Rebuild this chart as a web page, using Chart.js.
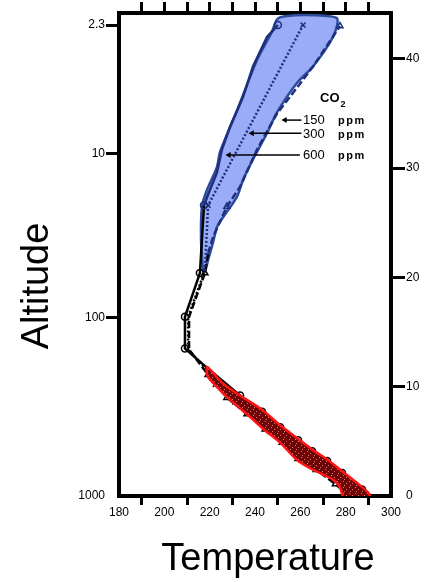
<!DOCTYPE html>
<html><head><meta charset="utf-8">
<script src="https://cdn.jsdelivr.net/npm/chart.js@4.4.1/dist/chart.umd.min.js"></script>
<style>html,body{margin:0;padding:0;background:#fff}canvas{display:block}</style>
</head><body>
<canvas id="c" width="441" height="582"></canvas>
<script>
// ---------- data (temperature K, altitude km) ----------
const T600 = [290.5, 287.2, 278.4, 271.8, 265.2, 259.0, 251.1, 243.1, 233.4, 220.1, 209.1, 209.1, 215.7, 217.5, 220.1, 223.2, 225.4, 229.0, 234.7, 239.1, 245.3, 250.1];
const Z600 = [0, 0.6, 2.1, 3.2, 4.1, 5.1, 6.3, 7.7, 9.2, 11.5, 13.5, 16.4, 20.4, 26.6, 28.0, 29.6, 31.7, 33.8, 36.5, 39.3, 42.0, 43.1];
const M600 = [1,2,3,4,5,6,7,8,10,11,12,13,21];

const T300 = [286.0, 280.0, 272.0, 263.0, 255.5, 248.0, 240.0, 231.0, 222.5, 219.8, 210.5, 210.5, 217.9, 219.3, 261.2];
const Z300 = [0, 1.0, 2.2, 3.5, 4.8, 6.0, 7.2, 8.6, 10.2, 11.3, 13.4, 16.4, 20.6, 26.6, 43.1];
const M300 = [1,2,3,4,5,6,7,8,13,14];

const T150 = [281.5, 275.5, 267.0, 259.0, 252.0, 244.5, 236.5, 227.6, 219.3, 210.9, 210.9, 217.9, 219.3, 221.5, 227.6, 233.4, 240.9, 249.7, 256.8, 265.6, 277.5];
const Z150 = [0, 1.1, 2.4, 3.4, 4.9, 6.1, 7.5, 9.0, 11.1, 13.4, 16.4, 20.4, 22.2, 23.7, 26.5, 28.3, 31.7, 35.0, 36.9, 39.3, 43.0];
const M150 = [1,2,3,4,5,6,7,8,11,14,20];

// highlighted stratospheric spread (blue) outline
const blueT = [217.1, 216.2, 216.6, 218.8, 223.2, 224.6, 232.1, 240.9, 247.5, 249.7, 253.2, 265.6, 276.2, 274.4, 265.6, 258.5, 249.7, 245.3, 239.1, 234.7, 232.1, 225.9, 223.2, 221.5, 219.3, 217.9, 217.1];
const blueZ = [20.5, 23.4, 26.5, 28.0, 30.1, 31.5, 35.3, 39.9, 42.5, 43.6, 43.9, 44.0, 43.7, 42.0, 39.3, 37.8, 35.1, 33.2, 30.8, 28.9, 27.4, 25.5, 24.6, 23.2, 21.6, 20.5, 20.5];

// highlighted tropospheric spread (red) outline
const redT = [220.1, 225.9, 233.4, 243.1, 251.0, 259.8, 265.6, 272.2, 278.8, 285.0, 290.7, 287.5, 279.5, 277.5, 274.4, 265.6, 258.5, 251.0, 244.4, 239.1, 229.0, 224.0, 219.0, 218.8, 220.1];
const redZ = [11.6, 10.3, 9.2, 7.9, 6.5, 5.1, 4.2, 3.3, 2.2, 1.2, 0.1, -0.3, -0.3, 0.8, 1.5, 2.4, 3.3, 4.9, 6.0, 7.0, 8.8, 9.8, 11.0, 11.8, 11.6];

// CO2 labels and arrows
const co2Labels = ['150', '300', '600'];
const co2LabelT = [261.2, 261.2, 261.2];
const co2LabelZ = [34.4, 33.1, 31.2];
const arrowFromT = [260.5, 260.5, 259.8];
const arrowTipT = [253.2, 238.7, 228.5];
const arrowZ = [34.4, 33.2, 31.2];
const co2TitleT = 268.7, co2TitleZ = 36.4;
const ppmT = 276.6;

// axes
const xMin = 180, xMax = 300;
const xLabelValues = [180, 200, 220, 240, 260, 280, 300];
const xMarkValues = [190, 210, 230, 250, 270, 290];
const xTopMarks = [190, 200, 210, 220, 230, 240, 250, 260, 270, 280, 290];
const altMax = 44.2;
const altTicks = [0, 10, 20, 30, 40];
const pressureLabels = ['2.3', '10', '100', '1000'];
const pressureAlt = [43.1, 31.3, 16.3, 0];
const xTitle = 'Temperature', yTitle = 'Altitude';

// ---------- helpers ----------
const pts = (T, Z) => T.map((t, i) => ({x: t, y: Z[i]}));
const NAVY = '#1e2f7c', BLACK = '#000';
const STRAT = 20.45;
const segCol = c => (c.p0.parsed.y >= STRAT && c.p1.parsed.y >= STRAT) ? NAVY : BLACK;
const ptCol = c => (c.raw && c.raw.y >= STRAT) ? NAVY : BLACK;
const radiusFor = (marks, r) => c => marks.includes(c.dataIndex) ? r : 0;

// speckled dark-red fill for the tropospheric band
function speckle() {
  const p = document.createElement('canvas');
  p.width = 6; p.height = 6;
  const g = p.getContext('2d');
  g.fillStyle = '#6e0404'; g.fillRect(0, 0, 6, 6);
  g.fillStyle = '#d87a7a';
  g.fillRect(1, 1, 1, 1); g.fillRect(4, 3, 1, 1); g.fillRect(2, 5, 1, 1);
  return g.createPattern(p, 'repeat');
}

function profile(label, T, Z, marks, style, dash, order) {
  return {
    label, data: pts(T, Z), order,
    borderColor: BLACK, borderWidth: 2.5, borderDash: dash,
    segment: {borderColor: segCol},
    pointStyle: style, pointRadius: radiusFor(marks, 3.5), pointHoverRadius: 0,
    pointBorderColor: ptCol, pointBackgroundColor: 'rgba(0,0,0,0)', pointBorderWidth: 1.5,
    fill: false, tension: 0
  };
}

const datasets = [
  {label: 'spread-strat', data: pts(blueT, blueZ), order: 10, fill: 'shape',
   backgroundColor: '#9aabf7', borderColor: '#2c4c9c', borderWidth: 2.5, pointRadius: 0, tension: 0.25},
  {label: 'spread-trop', data: pts(redT, redZ), order: 2, fill: 'shape',
   backgroundColor: speckle(), borderColor: '#ff1414', borderWidth: 2.5, pointRadius: 0, tension: 0.25},
  profile('600 ppm', T600, Z600, M600, 'circle', [], 3),
  profile('300 ppm', T300, Z300, M300, 'crossRot', [2, 2], 4),
  profile('150 ppm', T150, Z150, M150, 'triangle', [7, 3], 5)
];
co2Labels.forEach((l, i) => {
  datasets.push({label: 'arrow ' + l, data: [{x: arrowFromT[i], y: arrowZ[i]}, {x: arrowTipT[i], y: arrowZ[i]}],
    order: 1, borderColor: BLACK, borderWidth: 1.5, fill: false,
    pointRadius: [0, 3.5], pointStyle: 'triangle', pointRotation: 270,
    pointBackgroundColor: BLACK, pointBorderColor: BLACK, pointBorderWidth: 0});
});

const FONT = '"Liberation Sans", Arial, sans-serif';
const tickFont = {family: FONT, size: 12};

const textPlugin = {
  id: 'texts',
  afterDraw(chart) {
    const ctx = chart.ctx, xs = chart.scales.x, ys = chart.scales.y;
    ctx.save();
    ctx.fillStyle = '#000';
    ctx.textBaseline = 'middle';
    ctx.textAlign = 'left';
    ctx.font = 'bold 13px ' + FONT;
    const cx = xs.getPixelForValue(co2TitleT), cy = ys.getPixelForValue(co2TitleZ);
    ctx.fillText('CO', cx, cy);
    const w = ctx.measureText('CO').width;
    ctx.font = 'bold 9px ' + FONT;
    ctx.fillText('2', cx + w + 1, cy + 6);
    co2Labels.forEach((l, i) => {
      const y = ys.getPixelForValue(co2LabelZ[i]);
      ctx.font = '13px ' + FONT;
      ctx.fillText(l, xs.getPixelForValue(co2LabelT[i]), y);
      ctx.font = 'bold 11px ' + FONT;
      if ('letterSpacing' in ctx) ctx.letterSpacing = '1.5px';
      ctx.fillText('ppm', xs.getPixelForValue(ppmT), y + 1);
      if ('letterSpacing' in ctx) ctx.letterSpacing = '0px';
    });
    ctx.textAlign = 'center';
    ctx.font = '38px ' + FONT;
    ctx.fillText(xTitle, 268, 560);
    ctx.translate(38, 286);
    ctx.rotate(-Math.PI / 2);
    ctx.fillText(yTitle, 0, 0);
    ctx.restore();
  }
};

const frame = {display: true, color: BLACK, width: 4};

new Chart(document.getElementById('c'), {
  type: 'line',
  data: {datasets},
  plugins: [textPlugin],
  options: {
    responsive: false, animation: false, devicePixelRatio: 1,
    layout: {padding: 0},
    plugins: {legend: {display: false}, tooltip: {enabled: false}},
    events: [],
    scales: {
      x: {
        type: 'linear', position: 'bottom', min: xMin, max: xMax,
        afterBuildTicks: s => { s.ticks = [...new Set([...xLabelValues, ...xMarkValues])].sort((a, b) => a - b).map(v => ({value: v})); },
        afterFit: s => { s.height = 86; },
        border: frame,
        grid: {drawOnChartArea: false, drawTicks: true, tickLength: 9, lineWidth: 3, tickWidth: 3,
               tickColor: c => xMarkValues.includes(c.tick.value) ? BLACK : 'rgba(0,0,0,0)'},
        ticks: {autoSkip: false, maxRotation: 0, padding: 0, color: '#000', font: tickFont,
                callback: v => xLabelValues.includes(v) ? String(v) : ''}
      },
      xTop: {
        type: 'linear', position: 'top', min: xMin, max: xMax,
        afterBuildTicks: s => { s.ticks = xTopMarks.map(v => ({value: v})); },
        afterFit: s => { s.height = 13; },
        border: frame,
        grid: {drawOnChartArea: false, drawTicks: true, tickLength: 11, lineWidth: 3, tickWidth: 3, tickColor: BLACK},
        ticks: {autoSkip: false, maxRotation: 0, callback: () => '', font: {size: 1}}
      },
      y: {
        type: 'linear', position: 'right', min: 0, max: altMax,
        afterBuildTicks: s => { s.ticks = altTicks.map(v => ({value: v})); },
        afterFit: s => { s.width = 50; },
        border: frame,
        grid: {drawOnChartArea: false, drawTicks: true, tickLength: 14, lineWidth: 3, tickWidth: 3,
               tickColor: c => c.tick.value === 0 ? 'rgba(0,0,0,0)' : BLACK},
        ticks: {autoSkip: false, padding: 1, color: '#000', font: tickFont}
      },
      yP: {
        type: 'linear', position: 'left', min: 0, max: altMax,
        afterBuildTicks: s => { s.ticks = pressureAlt.map(v => ({value: v})); },
        afterFit: s => { s.width = 119; },
        border: frame,
        grid: {drawOnChartArea: false, drawTicks: true, tickLength: 13, lineWidth: 3, tickWidth: 3,
               tickColor: c => c.tick.value === 0 ? 'rgba(0,0,0,0)' : BLACK},
        ticks: {autoSkip: false, padding: 1, color: '#000', font: tickFont,
                callback: (v, i) => pressureLabels[i]}
      }
    }
  }
});
</script>
</body></html>
